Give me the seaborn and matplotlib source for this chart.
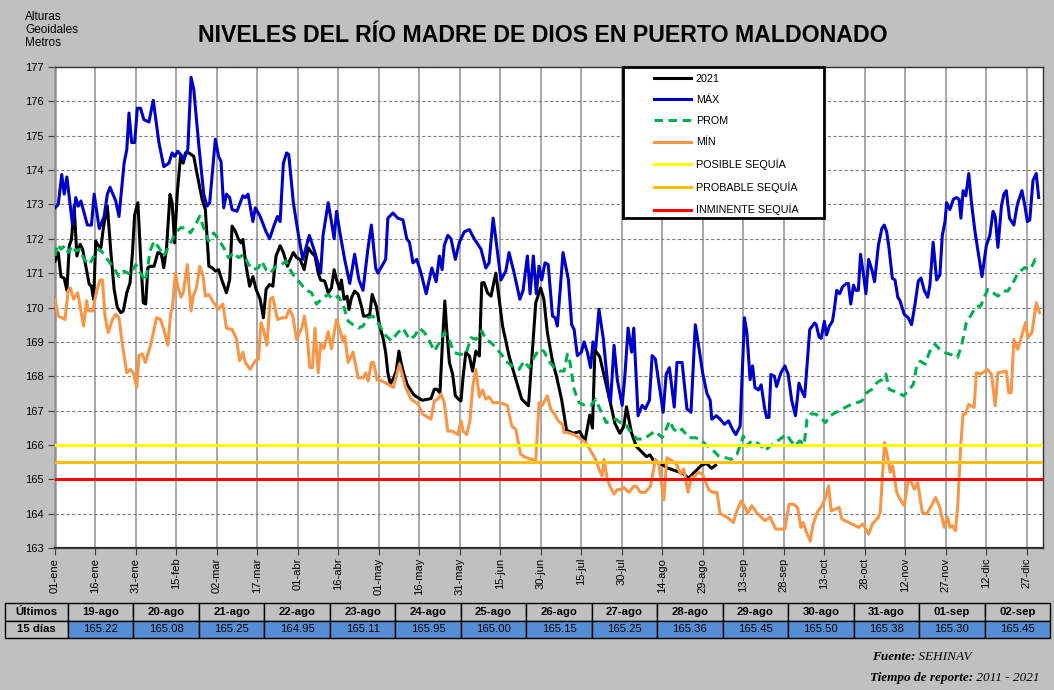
import matplotlib
matplotlib.use("Agg")
import matplotlib.pyplot as plt
import seaborn as sns
from matplotlib.lines import Line2D
from matplotlib.patches import Rectangle

# fuente tipo Arial
plt.rcParams["font.family"] = ["Liberation Sans", "DejaVu Sans"]

# ---------------- datos (día del año desde 01-ene = 0, nivel en m) ----------------
dias_2021 = [0, 1.2, 2.2, 3.4, 4.4, 5.3, 6.1, 7.1, 8.1, 9.3, 10.2, 11.4, 12.7, 13.5, 14.3, 15.1, 16, 17, 18,
             19.4, 20.7, 21.9, 23.1, 24.4, 25.3, 26.6, 27.8, 28.7, 29.5, 30.7, 31.7, 32.7, 33.6, 34.4, 35.4,
             36.7, 38.1, 39.4, 40.3, 41.3, 42.6, 43.4, 44.3, 45.3, 46.5, 47.5, 48.3, 49.6, 51.4, 52.6, 54.5,
             55.7, 57, 58.2, 59.4, 60.6, 61.8, 63.5, 64.7, 65.6, 66.8, 68, 68.9, 69.6, 70.8, 72.1, 73.3, 74.5,
             76, 77.2, 78.2, 79.5, 80.7, 81.9, 83.4, 84.6, 86.1, 87.1, 88.3, 89.5, 90.8, 92.3, 93.8, 95, 96.3,
             97.5, 98.4, 99.9, 101.2, 102.4, 103.4, 104.3, 105.5, 106.1, 107.1, 108.2, 108.9, 109.8, 111,
             112.3, 113.5, 114.3, 115.3, 116.6, 117.5, 119, 120.3, 121.5, 122.5, 123.3, 124.2, 125.2, 126.4,
             127.4, 128.2, 129.1, 130.5, 133, 136, 139.3, 140.5, 141.4, 142.6, 143.4, 144.4, 145.1, 146.1,
             147.3, 148.3, 149.5, 150.4, 151.2, 152.2, 153.5, 154.7, 155.9, 157.2, 158.1, 159, 160.2, 161.5,
             163.3, 165.8, 168.2, 170.7, 172.9, 175.4, 176.8, 178.1, 179.9, 181.1, 182.4, 184.3, 185.8, 187.7,
             189.5, 192, 194.4, 196.3, 198.1, 199.1, 200, 201.8, 205.5, 207.4, 209.2, 210.7, 211.7, 213.6,
             215.4, 217.3, 219.1, 220.4, 221.6, 223.5, 225.3, 227.2, 229, 230.9, 232.7, 234.6, 235.8, 237.7,
             239.5, 241.4, 243.2, 244.7]
nivel_2021 = [171.35, 171.6, 170.9, 170.85, 170.5, 171.8, 171.98, 172.95, 171.5, 171.84, 171.7, 171.2, 170.67,
              170.62, 170.24, 171.93, 171.8, 171.74, 172.37, 172.95, 171.6, 170.53, 170.0, 169.85, 169.9,
              170.43, 170.72, 171.6, 172.7, 173.05, 171.5, 170.14, 170.1, 171.16, 171.2, 171.2, 171.6, 171.55,
              171.16, 171.7, 173.29, 173.05, 171.88, 173.34, 174.4, 174.2, 174.5, 174.5, 174.4, 173.9, 173.15,
              172.85, 171.2, 171.16, 171.06, 171.1, 170.8, 170.43, 170.8, 172.37, 172.22, 171.98, 171.88,
              171.98, 171.2, 170.62, 170.9, 170.53, 170.24, 169.7, 170.53, 170.67, 170.62, 171.5, 171.8, 171.6,
              171.2, 171.4, 171.6, 171.45, 171.4, 171.1, 171.74, 171.6, 171.5, 171.0, 170.8, 170.77, 170.43,
              170.57, 171.1, 170.8, 170.53, 170.8, 170.24, 170.33, 169.94, 170.28, 170.48, 170.38, 170.04,
              169.75, 169.75, 169.8, 170.38, 170.04, 169.46, 169.12, 168.69, 168.1, 167.77, 167.91, 168.15,
              168.73, 168.4, 168.1, 167.75, 167.45, 167.3, 167.35, 167.62, 167.62, 167.52, 168.78, 170.19,
              169.36, 168.4, 168.06, 167.43, 167.33, 167.28, 168.0, 168.69, 168.59, 168.15, 168.73, 168.59,
              170.72, 170.72, 170.43, 170.33, 171.0, 169.46, 168.59, 167.91, 167.33, 167.14, 168.69, 170.14,
              170.57, 170.24, 169.27, 168.44, 167.99, 167.31, 166.43, 166.34, 166.39, 166.1, 166.87, 166.49,
              168.76, 168.57, 167.31, 166.63, 166.34, 166.53, 167.11, 166.34, 165.95, 165.8, 165.66, 165.71,
              165.56, 165.47, 165.41, 165.32, 165.27, 165.22, 165.17, 165.03, 165.12, 165.27, 165.41, 165.46,
              165.32, 165.41]

dias_max = [0, 1.2, 2.5, 3.4, 4.4, 5.3, 6.5, 7.7, 8.6, 9.6, 12, 13.5, 14.5, 16.4, 18.2, 19.4, 20.4, 22.5, 23.7,
            25.6, 26.6, 27.4, 28.4, 29.5, 30.5, 31.7, 32.9, 34.8, 36.4, 38.5, 40.3, 42.2, 43.4, 44.3, 45.5,
            47.1, 47.7, 49.2, 50.4, 51.4, 53.3, 55.1, 56.3, 57.3, 59.4, 60.6, 61.5, 62.5, 63.5, 64.7, 65.6,
            67.4, 69.6, 70.5, 71.5, 73.3, 74.2, 76, 78.2, 79.5, 81.2, 82.4, 83.4, 84.6, 85.8, 86.6, 88.3, 90.2,
            91.8, 94.2, 96.3, 98.4, 99.3, 101.2, 102.4, 103.4, 104.3, 105.5, 107.3, 109.2, 111, 112.6, 114.1,
            115.9, 117.2, 118.8, 119.6, 122.5, 123.3, 125.2, 127, 128.9, 130.3, 131.3, 132.6, 134, 135.6,
            137.5, 139.6, 141.2, 142.4, 143.4, 144.2, 145.5, 146.7, 148.3, 149.8, 151.6, 153.5, 155.3, 157.8,
            159.6, 160.8, 162.3, 163.3, 165.2, 167, 168.2, 170.1, 172.2, 173.4, 175, 176, 177.2, 178.3, 179.3,
            180.3, 181.5, 182.7, 184.3, 185.3, 186.1, 188.2, 190.2, 191.4, 192.3, 193.5, 195, 196, 197.2,
            198.4, 199.3, 200.3, 201.5, 203.1, 205.2, 205.8, 207.1, 208.3, 210.1, 211.1, 212.3, 213.6, 214.4,
            216, 217.5, 218.7, 220.2, 221.2, 222.4, 225.3, 226.4, 227.6, 229.4, 230.4, 232.3, 234.1, 235.6,
            237.2, 238.4, 239.9, 241.5, 242.7, 243.3, 245, 246.4, 248, 249.5, 251, 252.2, 253.8, 255.4, 256.3,
            257.5, 258.4, 259.3, 260.6, 261.6, 262.8, 263.6, 264.5, 265.2, 266.5, 267.3, 268.9, 270.4, 271.6,
            272.9, 274.3, 275.6, 276.5, 277.7, 279.6, 281.4, 282, 283, 283.8, 285, 285.8, 286.8, 288, 288.6,
            289.6, 290.7, 291.7, 293.2, 293.9, 294.8, 295.8, 296.6, 297.6, 298.4, 299.6, 300.4, 301.4, 302.6,
            303.6, 305, 306.3, 307.2, 308.1, 309, 310.2, 311.2, 312.2, 313, 314.6, 316.1, 317.3, 318.6, 319.8,
            320.8, 322, 323.3, 324.1, 325.3, 326.6, 327.8, 328.7, 329.7, 330.3, 331.5, 332.8, 334, 334.9,
            335.6, 336.4, 337.4, 338.5, 339.5, 340.7, 342, 343.4, 345, 346.3, 347.5, 348.3, 349.3, 350.6,
            351.5, 352.4, 353.6, 355.2, 356.5, 358.2, 359.2, 360.2, 361.1, 362.3, 363.5, 364.4]
nivel_max = [172.9, 173.0, 173.87, 173.3, 173.8, 173.2, 172.4, 173.2, 172.95, 173.1, 172.4, 172.4, 173.3, 172.3,
             172.65, 173.3, 173.5, 173.1, 172.65, 174.2, 174.6, 175.66, 174.8, 174.8, 175.8, 175.8, 175.47,
             175.4, 176.03, 174.8, 174.1, 174.2, 174.5, 174.4, 174.55, 174.4, 174.3, 174.6, 176.7, 176.35,
             174.7, 173.3, 172.95, 173.05, 174.9, 174.4, 174.25, 172.9, 173.3, 173.2, 172.85, 172.8, 173.25,
             173.2, 173.3, 172.5, 172.9, 172.65, 172.2, 172.0, 172.4, 172.65, 172.5, 174.2, 174.5, 174.45,
             173.05, 172.1, 171.4, 172.1, 171.6, 171.0, 172.1, 173.05, 172.5, 172.0, 172.8, 172.2, 171.4,
             170.7, 171.55, 170.8, 170.5, 171.7, 172.4, 171.15, 171.0, 171.4, 172.6, 172.75, 172.6, 172.55,
             172.0, 171.9, 171.3, 171.4, 171.0, 170.4, 171.15, 170.75, 171.5, 171.1, 171.8, 172.1, 172.0,
             171.4, 171.9, 172.2, 172.27, 172.0, 171.7, 171.15, 171.3, 172.6, 172.0, 170.8, 171.06, 171.6,
             171.0, 170.24, 170.5, 171.5, 170.4, 171.5, 170.4, 171.2, 170.8, 171.3, 171.25, 169.75, 169.7,
             169.46, 171.6, 170.8, 169.5, 169.36, 168.6, 168.7, 169.0, 168.7, 168.25, 169.0, 168.8, 169.95,
             169.1, 167.4, 167.25, 168.9, 167.9, 167.15, 168.0, 169.4, 168.7, 169.4, 166.85, 167.15, 167.05,
             167.3, 168.6, 168.5, 166.95, 168.05, 168.25, 167.1, 168.4, 168.4, 167.05, 166.95, 169.5, 168.9,
             168.1, 167.5, 167.3, 166.75, 166.85, 166.75, 166.6, 166.7, 166.45, 166.3, 166.55, 169.7, 169.27,
             167.9, 168.3, 167.67, 167.6, 167.75, 167.1, 166.8, 166.8, 168.05, 168.0, 167.7, 168.1, 168.3,
             168.05, 167.3, 166.85, 167.8, 167.6, 167.4, 169.36, 169.55, 169.5, 169.15, 169.1, 169.6, 169.2,
             169.45, 169.6, 169.9, 170.5, 170.4, 170.6, 170.7, 170.7, 170.1, 170.65, 170.5, 170.5, 171.55,
             170.9, 170.4, 171.4, 171.1, 170.75, 171.8, 172.3, 172.4, 172.2, 171.7, 170.85, 170.8, 170.3,
             170.2, 169.8, 169.7, 169.5, 170.1, 170.77, 170.86, 170.5, 170.3, 170.65, 171.9, 170.8, 170.95,
             172.1, 172.5, 173.05, 172.85, 173.15, 173.2, 173.15, 172.6, 173.4, 173.25, 173.9, 173.05, 172.27,
             171.6, 170.9, 171.8, 172.1, 172.8, 172.65, 171.75, 172.95, 173.3, 173.4, 172.6, 172.4, 173.0,
             173.4, 173.0, 172.5, 172.55, 173.7, 173.9, 173.2]

dias_prom = [0, 1, 2.2, 3.7, 4.9, 6.5, 7.7, 9.3, 10.8, 12.7, 14.5, 16.4, 17.6, 19.4, 21.3, 23.7, 25.6, 28, 29.9,
             31.7, 33.6, 35.2, 36.7, 38.5, 40.3, 42.6, 44.6, 46.5, 48.3, 50.2, 52, 53.6, 55.3, 56.9, 58.8, 60.6,
             62.5, 64.3, 66.2, 68, 69.9, 71.7, 73.6, 75.4, 76.6, 78.2, 79.7, 81.9, 84, 85.6, 87.1, 88.9, 90.8,
             92.6, 95, 96.9, 98.7, 101.2, 103, 104.9, 106.7, 108.6, 110.4, 112.3, 114.1, 116, 117.8, 119.6,
             122.1, 124.6, 127, 128.9, 131.3, 133.2, 135, 136.9, 138.7, 140.5, 142.4, 144.2, 146.1, 147.9,
             149.8, 152.2, 154.1, 156, 158.1, 159.6, 161.5, 163.3, 165.8, 167.6, 170.1, 171.9, 173.8, 175.6,
             177.4, 179.3, 181.1, 183, 184.9, 186.8, 188.6, 189.8, 190.7, 192.3, 194.1, 196.6, 198.4, 200.3,
             202.1, 204.2, 205.8, 207.7, 209.5, 211.4, 213.8, 215.7, 218.1, 220.6, 222.4, 224.9, 226.4, 227.6,
             229.2, 230.8, 232.3, 234.7, 237.2, 239, 240.9, 243.3, 245.8, 248.3, 250.5, 252.6, 254.2, 255,
             256.3, 258.1, 259.9, 261.6, 263, 264.9, 266.7, 268.6, 271, 272.6, 274.1, 275.9, 277.5, 278.6,
             279.8, 281.7, 283.5, 285.4, 287.2, 289.1, 290.9, 292.7, 295, 297.1, 298.9, 300.7, 302.6, 304.4,
             306.3, 307.8, 309, 310.6, 312.4, 314.3, 316.1, 318, 319.2, 320.5, 322.3, 324.1, 326, 327.8, 329.7,
             331.5, 333.3, 334.3, 335.8, 337.6, 339.5, 341.3, 342.9, 344.4, 345.6, 347.5, 349.3, 351.2, 353,
             354.9, 356.7, 359.2, 361, 362.2, 363.1, 364.7]
nivel_prom = [171.5, 171.84, 171.7, 171.8, 171.6, 171.8, 171.64, 171.7, 171.4, 171.25, 171.5, 171.7, 171.6,
              171.4, 171.2, 170.9, 171.06, 170.96, 171.25, 171.0, 170.77, 171.64, 171.93, 171.74, 171.5, 171.84,
              172.17, 172.32, 172.32, 172.17, 172.4, 172.66, 172.27, 171.93, 172.17, 171.98, 171.74, 171.45,
              171.6, 171.45, 171.54, 171.25, 171.1, 171.16, 171.35, 171.1, 171.0, 171.2, 171.25, 171.35, 171.1,
              170.87, 170.72, 170.53, 170.43, 170.1, 170.24, 170.38, 170.24, 170.33, 170.1, 169.6, 169.5, 169.4,
              169.46, 169.7, 169.75, 169.56, 169.22, 169.03, 169.27, 169.4, 169.07, 169.17, 169.4, 169.27,
              169.03, 168.73, 168.98, 169.27, 169.03, 168.69, 168.64, 168.64, 169.12, 169.07, 169.32, 169.07,
              168.98, 168.83, 168.59, 168.4, 168.25, 168.2, 168.44, 168.25, 168.54, 168.78, 168.73, 168.44,
              168.25, 168.15, 168.15, 168.64, 168.44, 167.62, 167.23, 167.14, 167.14, 167.33, 167.0, 166.65,
              166.7, 166.75, 166.65, 166.6, 166.31, 166.17, 166.17, 166.31, 166.4, 166.21, 166.46, 166.7,
              166.46, 166.36, 166.46, 166.21, 166.21, 166.17, 166.02, 165.88, 165.68, 165.63, 165.58, 165.73,
              166.07, 166.26, 165.97, 166.12, 166.07, 165.97, 165.83, 165.97, 166.07, 166.17, 166.31, 166.12,
              165.97, 166.12, 166.0, 166.75, 166.9, 166.9, 166.8, 166.65, 166.85, 166.94, 167.0, 167.09,
              167.18, 167.23, 167.28, 167.52, 167.62, 167.81, 167.9, 168.06, 167.62, 167.57, 167.52, 167.43,
              167.57, 167.77, 168.3, 168.44, 168.35, 168.73, 168.93, 168.78, 168.69, 168.64, 168.59, 168.54,
              168.88, 169.56, 169.8, 170.04, 170.04, 170.33, 170.53, 170.43, 170.33, 170.48, 170.48, 170.72,
              171.0, 171.16, 171.1, 171.25, 171.4, 171.3]

dias_min = [0, 1.2, 2.5, 3.7, 4.9, 5.7, 6.9, 8.4, 9.6, 10.6, 11.7, 12.4, 13.9, 15.5, 16.7, 17.6, 18.5, 19.7, 21.3,
            22.5, 23.7, 25, 26.6, 28, 29, 30.3, 31.1, 32.3, 33.5, 35.4, 37.6, 39.1, 40.3, 41.8, 42.8, 43.5, 44.6,
            45.5, 46.7, 47.5, 49, 50.4, 51.2, 52.4, 53.6, 54.9, 55.7, 57, 58.8, 60.6, 62.2, 63.5, 65.6, 67.2,
            68.4, 69.6, 70.5, 72.3, 74.2, 75.4, 76.3, 77.2, 78.5, 79.7, 80.7, 82.4, 84, 85.6, 86.8, 88.1, 89.5,
            91.4, 92.4, 93.4, 94.4, 95.4, 96.3, 97.5, 98.4, 99.6, 101.2, 102.4, 104.3, 105.5, 106.7, 107.3,
            108.6, 110.4, 112.3, 114.1, 115.1, 116, 117.2, 118, 119.3, 121.2, 123.3, 125.4, 127.6, 129.8,
            131.9, 134.4, 136.2, 139.3, 140.5, 141.8, 143, 144.2, 145.5, 147.3, 149.2, 150.4, 151.2, 152.5,
            153.7, 154.7, 155.9, 157.2, 158.4, 159.6, 160.8, 162.3, 164.3, 165.8, 167.6, 169.2, 170.7, 172.5,
            174.4, 176.8, 178.1, 179.3, 180.5, 182.4, 183.6, 185.4, 186.4, 188, 188.6, 189.8, 192.3, 194.8,
            196.6, 198.4, 200.3, 201.5, 202.7, 203.4, 204.6, 205.8, 207.1, 208.3, 209.5, 210.8, 212.6, 214.4,
            215.3, 216.9, 218.7, 220.6, 222.4, 223.7, 225.5, 226.7, 228.6, 230.2, 231.7, 232.9, 234.5, 235.7,
            237.2, 238.4, 239.9, 242.1, 243.6, 245.2, 246.4, 248.9, 251.3, 252.6, 254.2, 255.6, 256.6, 258.1,
            259.9, 261.6, 263, 264.9, 267, 268.6, 270.4, 271.9, 273.8, 275.1, 276.3, 277.2, 278.4, 279.8,
            280.7, 282.3, 284.1, 285.4, 286.6, 287.5, 290.5, 291.5, 296.4, 297.7, 299.3, 301.4, 302.8, 305,
            305.7, 307.3, 308.1, 309.4, 310.3, 311.8, 313, 314.6, 316.1, 317.3, 318.3, 319.6, 321.3, 322.9,
            325, 326.2, 327.8, 329.4, 330.7, 331.5, 332.4, 333.6, 334.4, 335.6, 336.4, 337.3, 338.5, 340.5,
            341.3, 342.9, 345.4, 346.9, 348.3, 349.3, 352.4, 353.3, 354.2, 355.2, 356.7, 359.5, 360.4, 361.9,
            363.5, 364.7]
nivel_min = [170.24, 169.75, 169.7, 169.65, 170.5, 170.57, 170.24, 170.43, 169.9, 169.46, 170.2, 169.9, 169.9,
             170.5, 170.8, 170.8, 169.75, 169.27, 169.65, 169.8, 169.7, 168.9, 168.1, 168.2, 168.1, 167.67,
             168.6, 168.65, 168.4, 168.9, 169.7, 169.65, 169.36, 168.9, 169.8, 170.0, 171.0, 170.6, 170.3,
             170.43, 171.25, 169.9, 170.33, 170.57, 171.2, 170.9, 170.33, 170.38, 170.14, 169.95, 170.1, 169.4,
             169.36, 169.1, 168.45, 168.7, 168.4, 168.2, 168.45, 168.5, 169.56, 169.36, 168.9, 170.24, 170.3,
             169.65, 169.7, 169.7, 169.95, 169.75, 169.07, 169.4, 169.75, 169.2, 168.25, 168.25, 169.4, 168.1,
             168.95, 168.8, 169.3, 168.8, 169.65, 169.36, 169.0, 169.17, 168.4, 168.7, 167.95, 167.95, 168.1,
             167.86, 168.4, 168.4, 167.9, 167.86, 167.77, 167.67, 168.35, 167.7, 167.33, 167.2, 166.9, 166.75,
             167.28, 167.33, 167.48, 167.23, 166.4, 166.4, 166.3, 166.7, 166.4, 166.3, 166.7, 167.67, 168.2,
             167.4, 167.6, 167.33, 167.4, 167.23, 167.23, 167.2, 167.15, 166.55, 166.45, 165.73, 165.63,
             165.58, 165.54, 167.23, 167.15, 167.43, 167.05, 166.85, 166.7, 166.6, 166.36, 166.36, 166.3,
             166.17, 166.07, 165.83, 165.58, 165.3, 165.1, 165.58, 165.0, 164.76, 164.57, 164.7, 164.7, 164.76,
             164.62, 164.8, 164.8, 164.62, 164.62, 164.8, 165.58, 165.44, 164.4, 165.63, 165.54, 165.44,
             165.15, 165.3, 164.62, 165.05, 165.1, 165.2, 165.15, 164.7, 164.62, 164.62, 164.0, 163.9, 163.74,
             164.08, 164.37, 164.2, 164.0, 164.23, 164.03, 163.9, 163.8, 163.9, 163.55, 163.55, 163.55, 164.27,
             164.27, 164.17, 163.6, 163.74, 163.45, 163.2, 163.65, 164.03, 164.23, 164.47, 164.81, 164.08,
             164.18, 163.84, 163.65, 163.6, 163.7, 163.4, 163.7, 163.89, 164.03, 166.07, 165.78, 165.2, 165.39,
             164.62, 164.42, 164.23, 165.0, 164.9, 164.71, 164.9, 164.03, 163.99, 164.28, 164.47, 164.18,
             163.6, 163.89, 163.6, 163.65, 163.5, 164.23, 166.07, 166.9, 166.9, 167.18, 167.09, 168.1, 168.06,
             168.2, 168.06, 167.14, 168.1, 168.15, 167.52, 167.52, 169.07, 168.78, 169.56, 169.12, 169.27,
             170.14, 169.85]

# umbrales de sequía
posible_sequia = 166.0
probable_sequia = 165.5
inminente_sequia = 165.0

# ejes
dias_ticks = list(range(0, 361, 15))
etiquetas_ticks = ["01-ene", "16-ene", "31-ene", "15-feb", "02-mar", "17-mar", "01-abr", "16-abr", "01-may",
                   "16-may", "31-may", "15-jun", "30-jun", "15-jul", "30-jul", "14-ago", "29-ago", "13-sep",
                   "28-sep", "13-oct", "28-oct", "12-nov", "27-nov", "12-dic", "27-dic"]

# tabla últimos 15 días
fechas_tabla = ["19-ago", "20-ago", "21-ago", "22-ago", "23-ago", "24-ago", "25-ago", "26-ago",
                "27-ago", "28-ago", "29-ago", "30-ago", "31-ago", "01-sep", "02-sep"]
valores_tabla = ["165.22", "165.08", "165.25", "164.95", "165.11", "165.95", "165.00", "165.15",
                 "165.25", "165.36", "165.45", "165.50", "165.38", "165.30", "165.45"]

# ---------------- figura ----------------
W, H = 1054, 690
fig = plt.figure(figsize=(W / 100, H / 100), dpi=100)
fig.patch.set_facecolor("#c0c0c0")
ax = fig.add_axes([55 / W, 1 - 548 / H, 988 / W, 481 / H])
ax.set_facecolor("white")

lw = 2.2
c_2021, c_max, c_prom, c_min = "black", "#0000c8", "#00b050", "#f79646"
c_pos, c_prob, c_inm = "#ffff00", "#ffc000", "#ff0000"

sns.lineplot(x=dias_2021, y=nivel_2021, ax=ax, color=c_2021, lw=lw, estimator=None, sort=False, zorder=3)
sns.lineplot(x=dias_max, y=nivel_max, ax=ax, color=c_max, lw=lw, estimator=None, sort=False, zorder=3)
sns.lineplot(x=dias_prom, y=nivel_prom, ax=ax, color=c_prom, lw=lw, linestyle=(0, (2.8, 1.8)),
             estimator=None, sort=False, zorder=3)
sns.lineplot(x=dias_min, y=nivel_min, ax=ax, color=c_min, lw=lw, estimator=None, sort=False, zorder=3)
ax.axhline(posible_sequia, color=c_pos, lw=lw, zorder=3)
ax.axhline(probable_sequia, color=c_prob, lw=lw, zorder=3)
ax.axhline(inminente_sequia, color=c_inm, lw=lw, zorder=3)

ax.set_xlim(0, 366)
ax.set_ylim(163, 177)
ax.set_yticks(range(163, 178))
ax.set_xticks(dias_ticks)
ax.set_xticklabels(etiquetas_ticks, rotation=90, fontsize=8)
ax.tick_params(axis="y", labelsize=8, length=5, pad=3, color="#404040")
ax.tick_params(axis="x", length=5, pad=2, color="#404040")
ax.set_xlabel("")
ax.set_ylabel("")

ax.set_axisbelow(True)
ax.yaxis.grid(True, color="#808080", lw=0.8, ls=(0, (3, 2)))
ax.xaxis.grid(True, color="#a0a0a0", lw=1.3, ls="-")
for s in ["top", "right", "bottom"]:
    ax.spines[s].set_color("#303030")
    ax.spines[s].set_linewidth(1.0)
ax.spines["bottom"].set_linewidth(1.6)
ax.spines["left"].set_color("#909090")
ax.spines["left"].set_linewidth(1.8)

# leyenda con marco propio
ax.add_patch(Rectangle((0.5749, 0.686), 0.2034, 0.314, transform=ax.transAxes, facecolor="white",
                       edgecolor="black", lw=2, zorder=6, clip_on=False))
handles = [
    Line2D([], [], color=c_2021, lw=lw),
    Line2D([], [], color=c_max, lw=lw),
    Line2D([], [], color=c_prom, lw=lw, ls=(0, (2.8, 1.8))),
    Line2D([], [], color=c_min, lw=lw),
    Line2D([], [], color=c_pos, lw=lw),
    Line2D([], [], color=c_prob, lw=lw),
    Line2D([], [], color=c_inm, lw=lw),
]
etiquetas = ["2021", "MÁX", "PROM", "MÍN", "POSIBLE SEQUÍA", "PROBABLE SEQUÍA", "INMINENTE SEQUÍA"]
leg = ax.legend(handles, etiquetas, loc="upper left", bbox_to_anchor=(0.606, 0.986), frameon=False,
                fontsize=7.75, handlelength=3.5, handletextpad=0.4, labelspacing=1.04, borderpad=0,
                borderaxespad=0)
leg.set_zorder(7)

# textos
fig.text(543 / W, 1 - 36 / H, "NIVELES DEL RÍO MADRE DE DIOS EN PUERTO MALDONADO", ha="center", va="center",
         fontsize=16.7, fontweight="bold")
fig.text(25 / W, 1 - 11 / H, "Alturas\nGeoidales\nMetros", ha="left", va="top", fontsize=8.5, linespacing=1.1)

# tabla
ax_t = fig.add_axes([5 / W, 1 - 638 / H, 1045 / W, 35 / H])
ax_t.axis("off")
anchos = [63] + [65.47] * 15
total = sum(anchos)
tabla = ax_t.table(cellText=[["Últimos"] + fechas_tabla, ["15 días"] + valores_tabla],
                   colWidths=[a / total for a in anchos], cellLoc="center", bbox=[0, 0, 1, 1])
tabla.auto_set_font_size(False)
tabla.set_fontsize(8.2)
for (r, c), celda in tabla.get_celld().items():
    celda.set_edgecolor("black")
    celda.set_linewidth(1.0)
    if r == 0 or c == 0:
        celda.set_facecolor("#c0c0c0")
        celda.get_text().set_fontweight("bold")
    else:
        celda.set_facecolor("#558ed5")

# fuente
serif = ["Liberation Serif", "DejaVu Serif"]
t1 = fig.text(872 / W, 1 - 657 / H, "Fuente:", family=serif, style="italic", fontweight="bold",
              fontsize=9.5, va="center")
ax_t.annotate(" SEHINAV", xy=(1, 0), xycoords=t1, va="bottom", ha="left", family=serif, style="italic",
              fontsize=9.5)
t2 = fig.text(870 / W, 1 - 678 / H, "Tiempo de reporte:", family=serif, style="italic", fontweight="bold",
              fontsize=9.5, va="center")
ax_t.annotate(" 2011 - 2021", xy=(1, 0), xycoords=t2, va="bottom", ha="left", family=serif, style="italic",
              fontsize=9.5)

fig.savefig("out.png", dpi=100, facecolor=fig.get_facecolor())
